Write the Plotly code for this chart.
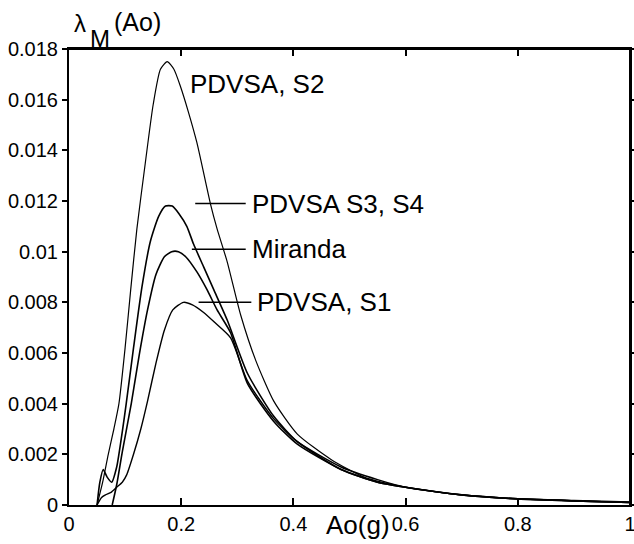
import plotly.graph_objects as go

# ---- data ----
s2_x = [0.05, 0.06, 0.07, 0.08, 0.089, 0.10, 0.11, 0.121, 0.136, 0.150, 0.163, 0.175, 0.187, 0.199, 0.213,
        0.228, 0.252, 0.264, 0.282, 0.306, 0.333, 0.365, 0.407, 0.467, 0.526, 0.60, 0.70, 0.80, 0.90, 1.0]
s2_y = [0.0, 0.0009, 0.002, 0.003, 0.004, 0.0062, 0.0085, 0.0109, 0.0135, 0.0158, 0.0172, 0.0175, 0.0172,
        0.0165, 0.0155, 0.0143, 0.0119, 0.0109, 0.0096, 0.0075, 0.0057, 0.0041, 0.0028, 0.0018, 0.0011,
        0.0007, 0.0004, 0.00025, 0.00018, 0.00012]

s34_x = [0.05, 0.055, 0.061, 0.068, 0.076, 0.085, 0.095, 0.102, 0.115, 0.13, 0.145, 0.16, 0.172, 0.184,
         0.196, 0.21, 0.222, 0.24, 0.258, 0.282, 0.318, 0.365, 0.407, 0.485, 0.55, 0.6, 0.7, 0.8, 0.9, 1.0]
s34_y = [0.0, 0.0009, 0.0014, 0.0011, 0.0009, 0.0015, 0.0029, 0.004, 0.0062, 0.0086, 0.0104, 0.0114,
         0.0118, 0.0118, 0.0115, 0.011, 0.0103, 0.0094, 0.0085, 0.0073, 0.0052, 0.0035, 0.0025, 0.0014,
         0.0009, 0.0007, 0.0004, 0.00024, 0.00016, 0.0001]

mir_x = [0.077, 0.085, 0.095, 0.111, 0.125, 0.14, 0.155, 0.17, 0.183, 0.195, 0.208, 0.228, 0.246, 0.264,
         0.288, 0.318, 0.365, 0.407, 0.485, 0.55, 0.6, 0.7, 0.8, 0.9, 1.0]
mir_y = [0.0, 0.0008, 0.0021, 0.004, 0.0059, 0.0077, 0.0091, 0.0098, 0.0100, 0.0100, 0.0098, 0.0092,
         0.0085, 0.0077, 0.0068, 0.0048, 0.0033, 0.0024, 0.0014, 0.0009, 0.0007, 0.0004, 0.00024, 0.00016,
         0.0001]

s1_x = [0.05, 0.058, 0.065, 0.075, 0.085, 0.095, 0.103, 0.115, 0.128, 0.14, 0.155, 0.17, 0.185, 0.204,
        0.22, 0.24, 0.26, 0.288, 0.318, 0.365, 0.407, 0.485, 0.55, 0.6, 0.7, 0.8, 0.9, 1.0]
s1_y = [0.0, 0.0003, 0.0004, 0.0005, 0.0007, 0.0009, 0.0012, 0.002, 0.003, 0.0041, 0.0056, 0.0069, 0.0077,
        0.0080, 0.0079, 0.0076, 0.0072, 0.0066, 0.0049, 0.0034, 0.0025, 0.0015, 0.0010, 0.0007, 0.0004,
        0.00024, 0.00016, 0.0001]

# label texts, anchor y values, leader line x-ranges
labels = ["PDVSA, S2", "PDVSA S3, S4", "Miranda", "PDVSA, S1"]
label_y = [0.0166, 0.0119, 0.0101, 0.0080]
label_x = [0.213, 0.322, 0.322, 0.332]
leader_x0 = [None, 0.225, 0.219, 0.231]
leader_x1 = [None, 0.315, 0.315, 0.325]

x_ticks = [0, 0.2, 0.4, 0.6, 0.8, 1.0]
y_ticks = [0, 0.002, 0.004, 0.006, 0.008, 0.01, 0.012, 0.014, 0.016, 0.018]
X_RANGE = [0, 1]
Y_RANGE = [0, 0.018]

FONT = "Arial"
W, H = 634, 544
M = dict(l=69, r=4, t=49, b=39)

fig = go.Figure()
for xs, ys, w in [(s2_x, s2_y, 1.2), (s34_x, s34_y, 1.6), (mir_x, mir_y, 1.6), (s1_x, s1_y, 1.4)]:
    fig.add_trace(go.Scatter(x=xs, y=ys, mode="lines",
                             line=dict(color="black", width=w, shape="spline", smoothing=0.6),
                             showlegend=False))

# leader lines
for i in range(1, 4):
    fig.add_shape(type="line", xref="x", yref="y", x0=leader_x0[i], x1=leader_x1[i],
                  y0=label_y[i], y1=label_y[i], line=dict(color="black", width=1.5))

# plot frame (top and right edges)
fig.add_shape(type="line", xref="paper", yref="paper", x0=0, x1=1, y0=1, y1=1,
              line=dict(color="black", width=2))
fig.add_shape(type="line", xref="paper", yref="paper", x0=1, x1=1, y0=0, y1=1,
              line=dict(color="black", width=2))

for t, xv, yv in zip(labels, label_x, label_y):
    fig.add_annotation(x=xv, y=yv, xref="x", yref="y", text=t, showarrow=False,
                       xanchor="left", yanchor="middle",
                       font=dict(family=FONT, size=26, color="black"))

# y-axis title λM(Ao) built from plain text pieces (subscript M)
fig.add_annotation(x=0.005, y=1.055, xref="paper", yref="paper", text="λ",
                   showarrow=False, xanchor="left", yanchor="middle",
                   font=dict(family=FONT, size=24, color="black"))
fig.add_annotation(x=0.033, y=1.022, xref="paper", yref="paper", text="M",
                   showarrow=False, xanchor="left", yanchor="middle",
                   font=dict(family=FONT, size=24, color="black"))
fig.add_annotation(x=0.076, y=1.06, xref="paper", yref="paper", text="(Ao)",
                   showarrow=False, xanchor="left", yanchor="middle",
                   font=dict(family=FONT, size=25, color="black"))
fig.add_annotation(x=0.454, y=-0.044, xref="x", yref="paper", text="Ao(g)",
                   showarrow=False, xanchor="left", yanchor="middle",
                   font=dict(family=FONT, size=26, color="black"))

fig.update_layout(
    width=W, height=H,
    margin=M,
    paper_bgcolor="white", plot_bgcolor="white",
    font=dict(family=FONT, size=20, color="black"),
    xaxis=dict(range=X_RANGE, tickvals=x_ticks, ticks="inside", ticklen=7, tickwidth=1.5,
               tickcolor="black", automargin=False, ticklabeloverflow="allow",
               showline=True, linecolor="black", linewidth=2, mirror="ticks",
               showgrid=False, zeroline=False, tickfont=dict(size=20)),
    yaxis=dict(range=Y_RANGE, tickvals=y_ticks, ticks="outside", ticklen=5, automargin=False,
               tickwidth=1.5, tickcolor="black", showline=True, linecolor="black", linewidth=2,
               mirror="ticks", showgrid=False, zeroline=False, tickfont=dict(size=20)),
)

fig.write_html("out.html", config={"displayModeBar": False},
               post_script="document.body.style.margin='0px';document.body.style.overflow='hidden';")
